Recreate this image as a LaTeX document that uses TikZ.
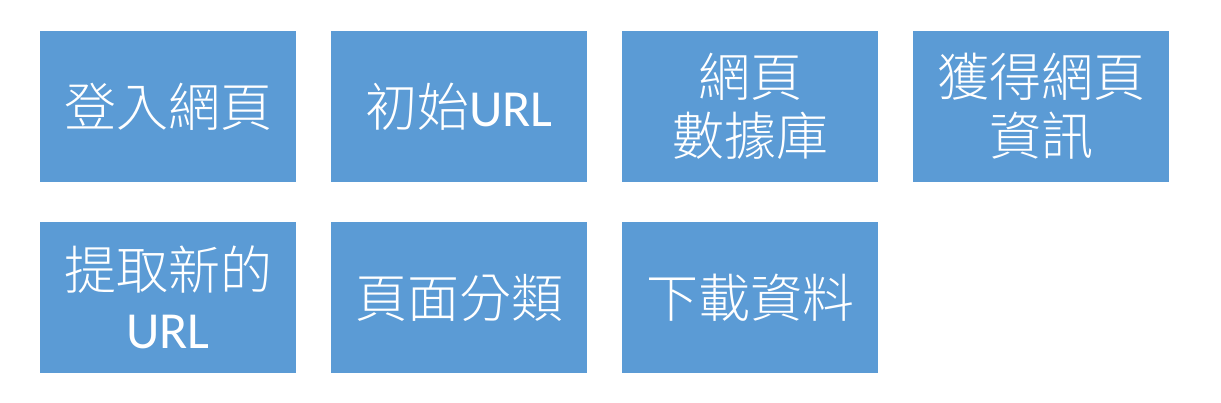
\documentclass[tikz,border=0pt]{standalone}
\usepackage{fontspec}
\setmainfont{Carlito}
\newfontfamily\cjk{Noto Sans CJK TC}[UprightFont=* Light]
\definecolor{boxblue}{HTML}{5B9BD5}
\begin{document}
\begin{tikzpicture}[x=1pt,y=1pt,
  card/.style={fill=boxblue, draw=none, minimum width=256pt, minimum height=151pt,
    inner sep=0pt, text=white, align=center,
    font=\fontsize{52}{59}\selectfont\cjk}]
\useasboundingbox (0,0) rectangle (1221,403);
\node[card] (a) at (168,296.5) {登入網頁};
\node[card] (b) at (459,296.5) {初始{\fontspec{Carlito}URL}};
\node[card] (c) at (750,296.5) {網頁\\數據庫};
\node[card] (d) at (1041,296.5) {獲得網頁\\資訊};
\node[card] (e) at (168,105.5) {提取新的\\{\fontspec{Carlito}URL}};
\node[card] (f) at (459,105.5) {頁面分類};
\node[card] (g) at (750,105.5) {下載資料};
\end{tikzpicture}
\end{document}
